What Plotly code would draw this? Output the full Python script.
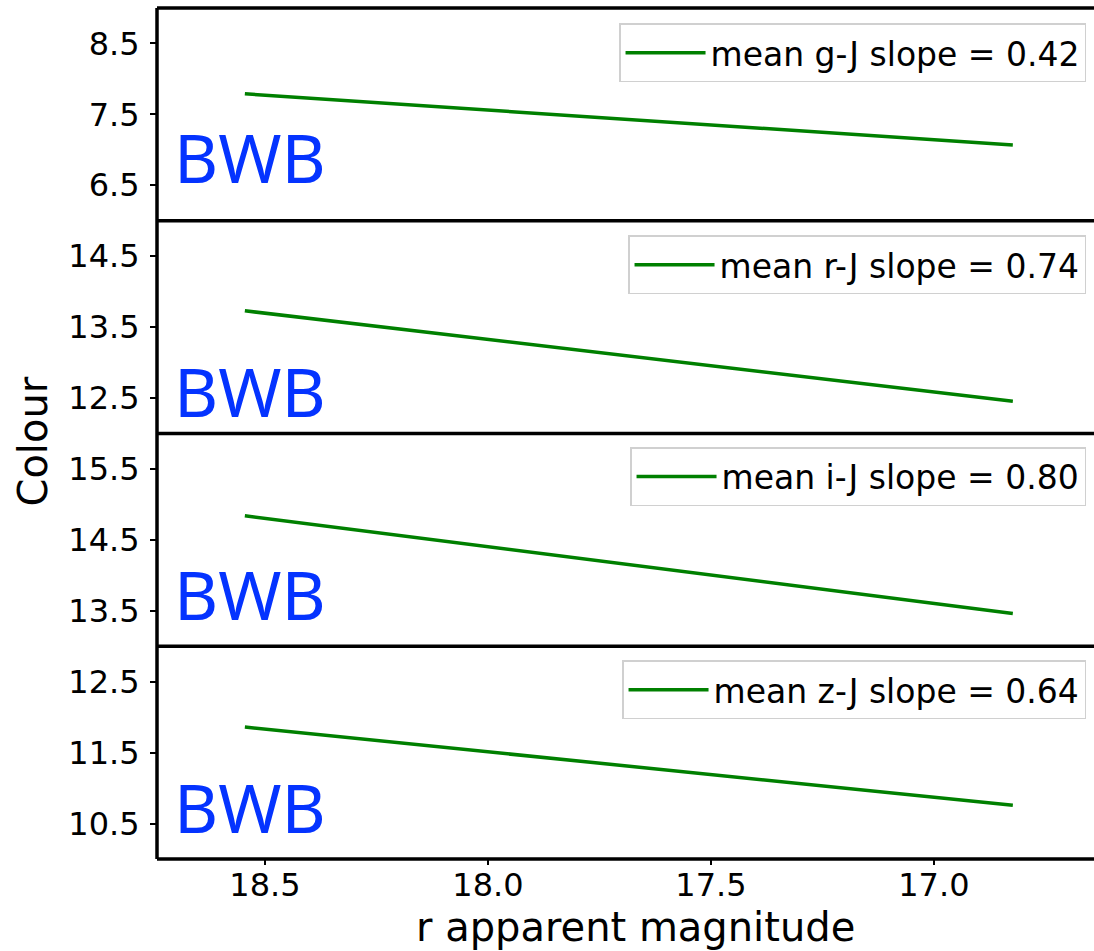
import plotly.graph_objects as go
from plotly.subplots import make_subplots

# Colour indices plotted against r-band apparent magnitude
colour_names = ["g-J", "r-J", "i-J", "z-J"]
r_mag = [18.545, 16.823]                 # fitted-line end points (r mag)
start_colour = [7.79, 13.73, 14.84, 11.86]  # colour at the faint end
mean_slopes = [0.42, 0.74, 0.80, 0.64]

y_ranges = [[6.0, 9.0], [12.0, 15.0], [13.0, 16.0], [10.0, 13.0]]
y_ticks = [[6.5, 7.5, 8.5], [12.5, 13.5, 14.5], [13.5, 14.5, 15.5], [10.5, 11.5, 12.5]]
x_ticks = [18.5, 18.0, 17.5, 17.0]
x_tick_text = ["18.5", "18.0", "17.5", "17.0"]
x_range = [18.742, 16.641]

# label placement inside each panel (axis-domain fractions)
label_y = [0.30, 0.202, 0.25, 0.247]
legend_top = [0.982, 0.733, 0.484, 0.2335]

FONT = "DejaVu Sans"
fig = make_subplots(rows=4, cols=1, shared_xaxes=True, vertical_spacing=0)

for i, (name, c0, slope) in enumerate(zip(colour_names, start_colour, mean_slopes)):
    c1 = c0 - slope * (r_mag[0] - r_mag[1])
    leg = "legend" if i == 0 else f"legend{i + 1}"
    fig.add_trace(
        go.Scatter(
            x=r_mag, y=[c0, c1], mode="lines",
            line=dict(color="#008000", width=3.5),
            name=f"mean {name} slope = {slope:.2f}",
            legend=leg, showlegend=True,
        ),
        row=i + 1, col=1,
    )
    fig.update_layout({
        leg: dict(
            x=0.9915, xanchor="right", y=legend_top[i], yanchor="top",
            bgcolor="white", bordercolor="#d0d0d0", borderwidth=1.5,
            itemwidth=80,
            font=dict(family=FONT, size=33, color="black"),
        )
    })
    fig.update_yaxes(
        range=y_ranges[i], tickvals=y_ticks[i],
        ticks="outside", ticklen=6, tickwidth=2, tickcolor="black",
        ticklabelstandoff=4,
        showgrid=False, zeroline=False, showline=False,
        tickfont=dict(family=FONT, size=32, color="black"),
        row=i + 1, col=1,
    )
    yref = "y" if i == 0 else f"y{i + 1}"
    xref = "x" if i == 0 else f"x{i + 1}"
    fig.add_annotation(
        text="BWB", xref=f"{xref} domain", yref=f"{yref} domain",
        x=0.016, y=label_y[i], xanchor="left", yanchor="middle",
        showarrow=False,
        font=dict(family="Noto Sans", size=68, color="#0433ff"),
    )

for i in range(4):
    last = i == 3
    fig.update_xaxes(
        range=x_range, showgrid=False, zeroline=False, showline=False,
        tickvals=x_ticks, ticktext=x_tick_text,
        ticks="outside" if last else "", ticklen=5, tickwidth=1.5, tickcolor="black",
        ticklabelstandoff=-7,
        showticklabels=last,
        tickfont=dict(family=FONT, size=32, color="black"),
        row=i + 1, col=1,
    )

# panel frames
line = dict(color="black", width=3.5)
fig.add_shape(type="line", xref="paper", yref="paper", x0=0, x1=0, y0=0, y1=1, line=line)
for yb in [0, 0.25, 0.5, 0.75, 1.0]:
    fig.add_shape(type="line", xref="paper", yref="paper", x0=0, x1=1.02, y0=yb, y1=yb, line=line)

fig.add_annotation(
    text="r apparent magnitude", xref="paper", yref="paper",
    x=0.5106, y=-0.0800, xanchor="center", yanchor="middle", showarrow=False,
    font=dict(family=FONT, size=40, color="black"),
)
fig.add_annotation(
    text="Colour", xref="paper", yref="paper", textangle=-90,
    x=-0.1323, y=0.4906, xanchor="center", yanchor="middle", showarrow=False,
    font=dict(family=FONT, size=40, color="black"),
)

fig.update_layout(
    width=1094, height=951,
    margin=dict(l=157, r=0, t=8, b=92),
    plot_bgcolor="white", paper_bgcolor="white",
)

fig.write_html("out.html")
